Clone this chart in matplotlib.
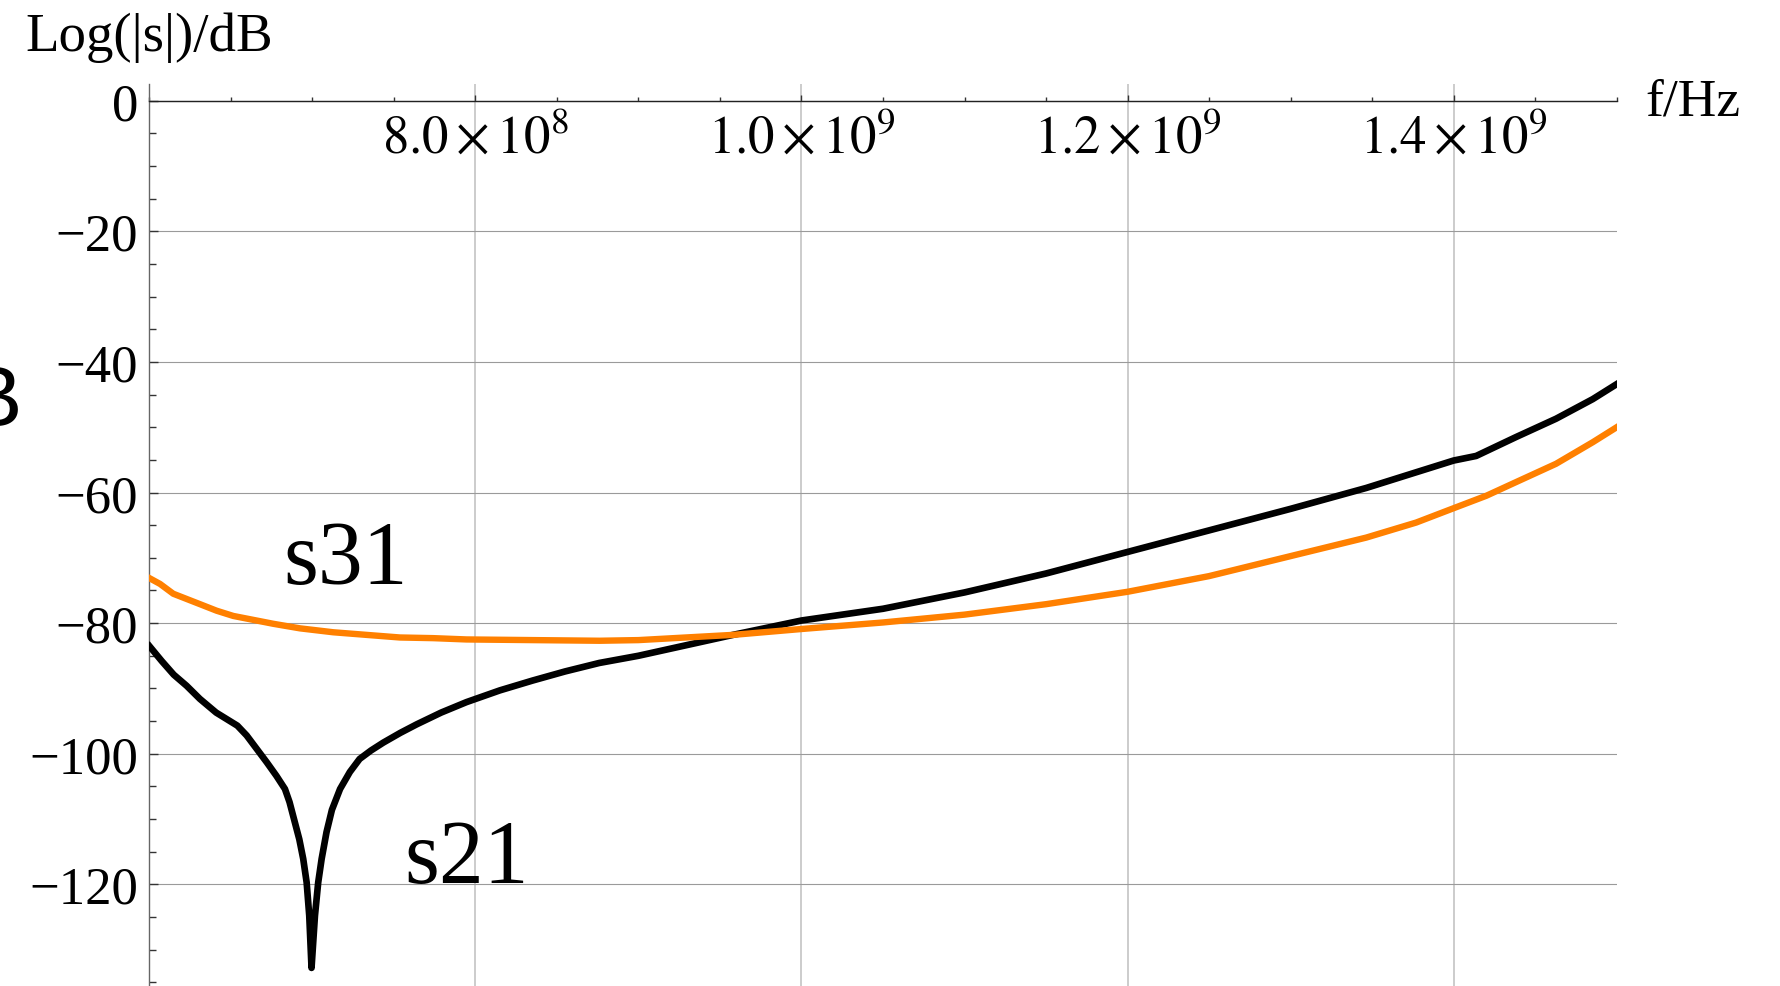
import numpy as np
import matplotlib
matplotlib.use("Agg")
import matplotlib.pyplot as plt
from matplotlib.ticker import MultipleLocator, FixedLocator, FuncFormatter

# s21 and s31 magnitude vs frequency
f21 = np.array([6.00, 6.076, 6.15, 6.229, 6.31, 6.41, 6.54, 6.597, 6.66, 6.72, 6.78,
                6.832, 6.86, 6.92, 6.944, 6.965, 6.981, 6.995, 7.016, 7.036, 7.057,
                7.087, 7.12, 7.17, 7.23, 7.29, 7.36, 7.435, 7.54, 7.64, 7.79, 7.945,
                8.15, 8.35, 8.55, 8.76, 9.00, 9.58, 10.0, 10.5, 11.0, 11.5, 12.0,
                12.5, 13.0, 13.464, 13.77, 14.0, 14.138, 14.383, 14.628, 14.853,
                15.0]) * 1e8
s21 = np.array([-83.5, -85.8, -87.9, -89.6, -91.6, -93.7, -95.7, -97.2, -99.3, -101.3,
                -103.4, -105.4, -107.4, -113.1, -116.1, -119.7, -124.8, -132.8, -124.8,
                -119.7, -116.1, -112.0, -108.6, -105.4, -102.8, -100.8, -99.5, -98.3,
                -96.8, -95.5, -93.7, -92.1, -90.3, -88.8, -87.4, -86.1, -85.0, -81.8,
                -79.6, -77.8, -75.3, -72.4, -69.1, -65.8, -62.5, -59.3, -56.9, -55.1,
                -54.4, -51.5, -48.7, -45.7, -43.4])

f31 = np.array([6.00, 6.066, 6.147, 6.229, 6.311, 6.413, 6.515, 6.617, 6.76, 6.924,
                7.128, 7.332, 7.537, 7.741, 7.945, 8.354, 8.762, 9.00, 9.58, 10.0,
                10.5, 11.0, 11.5, 12.0, 12.5, 13.055, 13.464, 13.77, 14.0, 14.2,
                14.383, 14.628, 14.853, 15.0]) * 1e8
s31 = np.array([-73.1, -74.0, -75.5, -76.3, -77.1, -78.1, -78.9, -79.4, -80.1, -80.8,
                -81.4, -81.8, -82.2, -82.3, -82.5, -82.6, -82.7, -82.6, -81.8, -80.9,
                -79.9, -78.7, -77.1, -75.2, -72.8, -69.4, -66.9, -64.6, -62.4, -60.5,
                -58.4, -55.6, -52.3, -50.0])

xticks = [8e8, 1.0e9, 1.2e9, 1.4e9]
xticklabels = [r"$8.0\times10^{8}$", r"$1.0\times10^{9}$",
               r"$1.2\times10^{9}$", r"$1.4\times10^{9}$"]

plt.rcParams["font.family"] = ["Liberation Serif", "DejaVu Serif"]
plt.rcParams["mathtext.fontset"] = "stix"

W, H = 1780, 987
fig = plt.figure(figsize=(W / 100, H / 100), dpi=100)
ax = fig.add_axes([149.3 / W, 0, (1616.7 - 149.3) / W, (987 - 85) / H])

ax.plot(f21, s21, color="black", lw=4.8, solid_joinstyle="round", zorder=3)
ax.plot(f31, s31, color="#ff8000", lw=4.6, solid_joinstyle="round", zorder=4)

ax.set_xlim(6e8, 1.5e9)
ax.set_ylim(-135.57, 2.56)

for s in ["top", "right"]:
    ax.spines[s].set_visible(False)
ax.spines["bottom"].set_position(("data", 0))
ax.spines["bottom"].set_color("#222222")
ax.spines["left"].set_color("#666666")
ax.spines["bottom"].set_linewidth(1.0)
ax.spines["left"].set_linewidth(1.0)

ax.xaxis.set_major_locator(FixedLocator(xticks))
ax.xaxis.set_major_formatter(FuncFormatter(lambda v, p: xticklabels[xticks.index(v)] if v in xticks else ""))
ax.xaxis.set_minor_locator(MultipleLocator(0.5e8))
ax.yaxis.set_major_locator(MultipleLocator(20))
ax.yaxis.set_minor_locator(MultipleLocator(5))

ax.tick_params(axis="x", which="major", direction="in", length=4.5, width=1.0,
               color="#333333", labelsize=38, pad=9)
ax.tick_params(axis="x", which="minor", direction="in", length=3.0, width=1.0,
               color="#333333")
ax.tick_params(axis="y", which="major", direction="in", length=6.5, width=1.0,
               color="#333333", labelsize=38, pad=8)
ax.tick_params(axis="y", which="minor", direction="in", length=4.7, width=1.0,
               color="#333333")

ax.grid(True, axis="y", which="major", color="#9a9a9a", lw=0.8)
ax.grid(True, axis="x", which="major", color="#c4c4c4", lw=1.2)
ax.set_axisbelow(True)

# curve labels
ax.text(6.82e8, -73.9, "s31", fontsize=64.5, ha="left", va="baseline")
ax.text(7.567e8, -119.6, "s21", fontsize=64.5, ha="left", va="baseline")

# axis labels
def px(x, y):
    return x / W, 1 - y / H

fig.text(*px(25, 50.7), "Log(|s|)/dB", fontsize=39.5, ha="left", va="baseline")
fig.text(*px(1645, 115), "f/Hz", fontsize=38.5, ha="left", va="baseline")
fig.text(*px(23, 425), "dB", fontsize=62, ha="right", va="baseline",
         family=["Liberation Sans", "DejaVu Sans"])

fig.savefig("out.png", dpi=100)
